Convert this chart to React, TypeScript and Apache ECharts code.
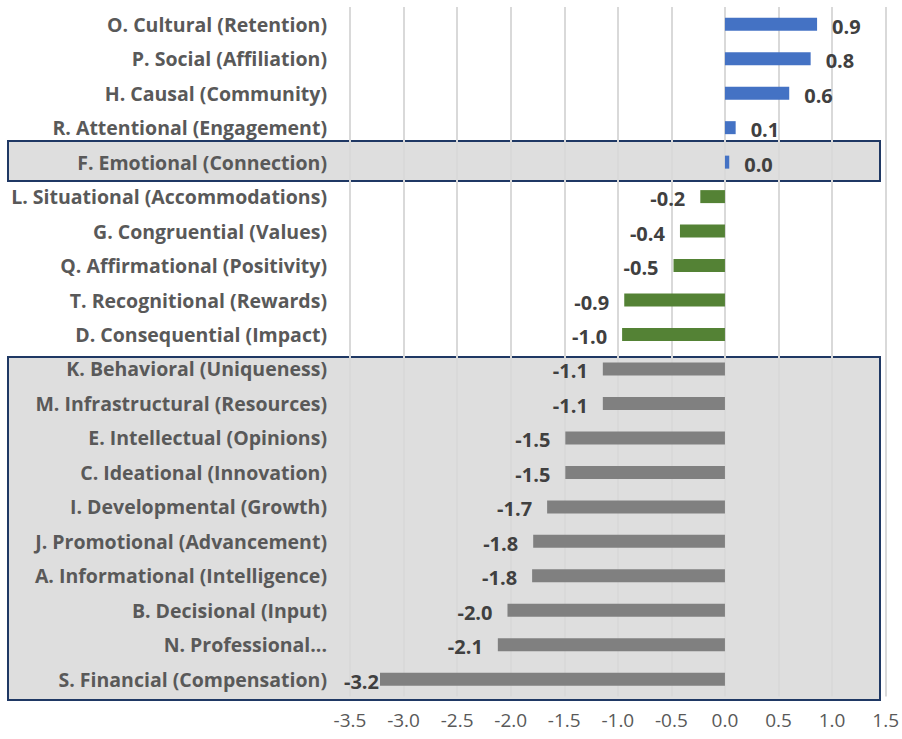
import React, { useEffect, useRef } from "react";
import * as echarts from "echarts";

const categories = [
  "O. Cultural (Retention)",
  "P. Social (Affiliation)",
  "H. Causal (Community)",
  "R. Attentional (Engagement)",
  "F. Emotional (Connection)",
  "L. Situational (Accommodations)",
  "G. Congruential (Values)",
  "Q. Affirmational (Positivity)",
  "T. Recognitional (Rewards)",
  "D. Consequential (Impact)",
  "K. Behavioral (Uniqueness)",
  "M. Infrastructural (Resources)",
  "E. Intellectual (Opinions)",
  "C. Ideational (Innovation)",
  "I. Developmental (Growth)",
  "J. Promotional (Advancement)",
  "A. Informational (Intelligence)",
  "B. Decisional (Input)",
  "N. Professional...",
  "S. Financial (Compensation)",
];

const blueValues = [0.86, 0.8, 0.6, 0.1, 0.04];
const greenValues = [-0.23, -0.42, -0.48, -0.94, -0.96];
const grayValues = [-1.14, -1.14, -1.49, -1.49, -1.66, -1.79, -1.8, -2.03, -2.12, -3.22];

const xTicks = { min: -3.5, max: 1.5, interval: 0.5 };

const FONT = "'Open Sans', sans-serif";

export default function App() {
  const ref = useRef<HTMLDivElement>(null);
  useEffect(() => {
    if (!ref.current) return;
    const chart = echarts.init(ref.current, null, { renderer: "svg" });
    const n = categories.length;
    const pad = (vals: number[], start: number) => {
      const arr: (number | string)[] = new Array(n).fill("-");
      vals.forEach((v, i) => (arr[start + i] = v));
      return arr;
    };
    const labelCommon = {
      show: true,
      fontFamily: FONT,
      fontWeight: "bold" as const,
      fontSize: 20,
      color: "#404040",
      offset: [0, 2],
      formatter: (p: any) => (typeof p.value === "number" ? p.value.toFixed(1) : ""),
    };
    const grayData = pad(grayValues, 10).map((v) =>
      v === -3.22 ? { value: v, label: { distance: 1 } } : v
    );
    chart.setOption({
      animation: false,
      grid: { left: 350, right: 15, top: 7, bottom: 42.5 },
      graphic: [
        {
          type: "rect",
          z: -10,
          shape: { x: 8, y: 141, width: 872, height: 40 },
          style: { fill: "#dedede", stroke: "#1f3864", lineWidth: 2 },
        },
        {
          type: "rect",
          z: -10,
          shape: { x: 8, y: 357, width: 872, height: 343 },
          style: { fill: "#dedede", stroke: "#1f3864", lineWidth: 2 },
        },
      ],
      xAxis: {
        type: "value",
        min: xTicks.min,
        max: xTicks.max,
        interval: xTicks.interval,
        axisLine: { show: false },
        axisTick: { show: false },
        splitLine: { show: true, lineStyle: { color: "#d9d9d9", width: 2 } },
        axisLabel: {
          fontFamily: FONT,
          fontSize: 19,
          color: "#595959",
          margin: 14,
          formatter: (v: number) => v.toFixed(1),
        },
      },
      yAxis: {
        type: "category",
        data: categories,
        inverse: true,
        axisLine: { show: false },
        axisTick: { show: false },
        splitLine: { show: false },
        axisLabel: {
          fontFamily: FONT,
          fontWeight: "bold",
          fontSize: 19.5,
          color: "#595959",
          margin: 23,
        },
      },
      series: [
        {
          type: "bar",
          stack: "s",
          barWidth: 13,
          data: pad(blueValues, 0),
          itemStyle: { color: "#4472C4" },
          label: { ...labelCommon, position: "right", distance: 15 },
        },
        {
          type: "bar",
          stack: "s",
          barWidth: 13,
          data: pad(greenValues, 5),
          itemStyle: { color: "#548235" },
          label: { ...labelCommon, position: "left", distance: 15 },
        },
        {
          type: "bar",
          stack: "s",
          barWidth: 13,
          data: grayData,
          itemStyle: { color: "#808080" },
          label: { ...labelCommon, position: "left", distance: 15 },
        },
      ],
    });
    return () => chart.dispose();
  }, []);
  return (
    <div
      ref={ref}
      style={{ position: "fixed", left: 0, top: 0, width: 902, height: 739, background: "#ffffff" }}
    />
  );
}
